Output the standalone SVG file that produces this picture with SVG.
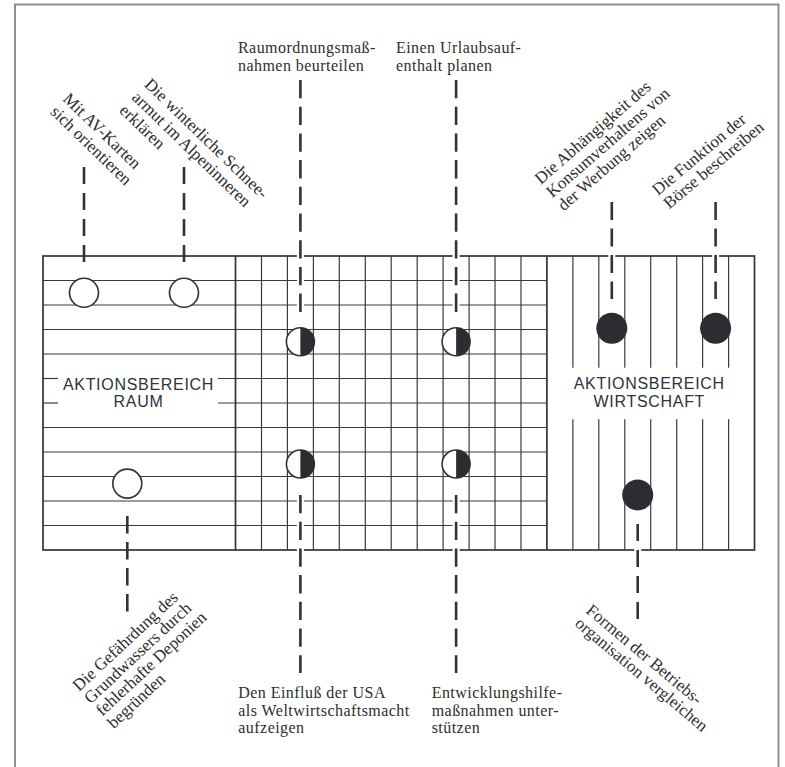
<svg xmlns="http://www.w3.org/2000/svg" width="785" height="767" viewBox="0 0 785 767">
<defs>
<style>
.frame{fill:none;stroke:#8e8e8e;stroke-width:2}
.gl{stroke:#3a3a3a;stroke-width:1.2;fill:none}
.gb{stroke:#333;stroke-width:1.7;fill:none}
.halo{stroke:#fff;stroke-width:7}
.dash{stroke:#333;stroke-width:2.6;fill:none}
.serif{font-family:"Liberation Serif","Times New Roman",serif;font-size:17px;fill:#2e2e2e}
.hs{font-family:"Liberation Serif","Times New Roman",serif;font-size:16px;letter-spacing:0.45px;fill:#2e2e2e}
.sans{font-family:"Liberation Sans",Arial,sans-serif;font-size:16px;letter-spacing:0.7px;fill:#2d3340;text-anchor:middle}
.open{fill:#fff;stroke:#333;stroke-width:1.6}
.dark{fill:#2b2d33}
</style>
</defs>
<rect width="785" height="767" fill="#fff"/>
<path class="frame" d="M15,767 V4.5 H778.5 V767"/>

<g id="grid">
  <g class="gl">
    <line x1="43" y1="280.5" x2="546.9" y2="280.5"/>
    <line x1="43" y1="305" x2="546.9" y2="305"/>
    <line x1="43" y1="329.5" x2="546.9" y2="329.5"/>
    <line x1="43" y1="354" x2="546.9" y2="354"/>
    <line x1="43" y1="378.5" x2="58" y2="378.5"/>
    <line x1="218" y1="378.5" x2="546.9" y2="378.5"/>
    <line x1="43" y1="403" x2="58" y2="403"/>
    <line x1="218" y1="403" x2="546.9" y2="403"/>
    <line x1="43" y1="427.5" x2="546.9" y2="427.5"/>
    <line x1="43" y1="452" x2="546.9" y2="452"/>
    <line x1="43" y1="476.5" x2="546.9" y2="476.5"/>
    <line x1="43" y1="501" x2="546.9" y2="501"/>
    <line x1="43" y1="525.5" x2="546.9" y2="525.5"/>
    <line x1="261.5" y1="256" x2="261.5" y2="550"/>
    <line x1="287.4" y1="256" x2="287.4" y2="550"/>
    <line x1="313.4" y1="256" x2="313.4" y2="550"/>
    <line x1="339.3" y1="256" x2="339.3" y2="550"/>
    <line x1="365.3" y1="256" x2="365.3" y2="550"/>
    <line x1="391.2" y1="256" x2="391.2" y2="550"/>
    <line x1="417.2" y1="256" x2="417.2" y2="550"/>
    <line x1="443.1" y1="256" x2="443.1" y2="550"/>
    <line x1="469.1" y1="256" x2="469.1" y2="550"/>
    <line x1="495" y1="256" x2="495" y2="550"/>
    <line x1="521" y1="256" x2="521" y2="550"/>
    <line x1="572.9" y1="256" x2="572.9" y2="367.7"/>
    <line x1="598.8" y1="256" x2="598.8" y2="367.7"/>
    <line x1="624.8" y1="256" x2="624.8" y2="367.7"/>
    <line x1="650.7" y1="256" x2="650.7" y2="367.7"/>
    <line x1="676.7" y1="256" x2="676.7" y2="367.7"/>
    <line x1="702.6" y1="256" x2="702.6" y2="367.7"/>
    <line x1="728.6" y1="256" x2="728.6" y2="367.7"/>
    <line x1="572.9" y1="419.3" x2="572.9" y2="550"/>
    <line x1="598.8" y1="419.3" x2="598.8" y2="550"/>
    <line x1="624.8" y1="419.3" x2="624.8" y2="550"/>
    <line x1="650.7" y1="419.3" x2="650.7" y2="550"/>
    <line x1="676.7" y1="419.3" x2="676.7" y2="550"/>
    <line x1="702.6" y1="419.3" x2="702.6" y2="550"/>
    <line x1="728.6" y1="419.3" x2="728.6" y2="550"/>
  </g>
  <g class="gb">
    <rect x="43" y="256" width="711.5" height="294"/>
    <line x1="235.5" y1="256" x2="235.5" y2="550"/>
    <line x1="546.9" y1="256" x2="546.9" y2="550"/>
  </g>
  <text class="sans" x="138.5" y="390">AKTIONSBEREICH</text>
  <text class="sans" x="138.5" y="407">RAUM</text>
  <text class="sans" x="649.3" y="389">AKTIONSBEREICH</text>
  <text class="sans" x="649.3" y="406.5">WIRTSCHAFT</text>
</g>

<g id="connectors">
  <g class="halo">
    <line x1="300.4" y1="251" x2="300.4" y2="313"/>
    <line x1="300.4" y1="494" x2="300.4" y2="555"/>
    <line x1="456.1" y1="251" x2="456.1" y2="313"/>
    <line x1="456.1" y1="494" x2="456.1" y2="555"/>
    <line x1="611.8" y1="251" x2="611.8" y2="300"/>
    <line x1="715.6" y1="251" x2="715.6" y2="300"/>
    <line x1="637.7" y1="523" x2="637.7" y2="555"/>
  </g>
  <line class="dash" x1="84" y1="167" x2="84" y2="262" stroke-dasharray="17 9"/>
  <line class="dash" x1="184" y1="167" x2="184" y2="262" stroke-dasharray="17 9"/>
  <line class="dash" x1="127.3" y1="516" x2="127.3" y2="612" stroke-dasharray="17.5 8.5"/>
  <line class="dash" x1="300.4" y1="80" x2="300.4" y2="312" stroke-dasharray="18.3 8.4"/>
  <line class="dash" x1="300.4" y1="495" x2="300.4" y2="673" stroke-dasharray="18.3 8.4"/>
  <line class="dash" x1="456.1" y1="80" x2="456.1" y2="312" stroke-dasharray="18.3 8.4"/>
  <line class="dash" x1="456.1" y1="495" x2="456.1" y2="673" stroke-dasharray="18.3 8.4"/>
  <line class="dash" x1="611.8" y1="202" x2="611.8" y2="299" stroke-dasharray="18 8.5"/>
  <line class="dash" x1="715.6" y1="202" x2="715.6" y2="299" stroke-dasharray="18 8.5"/>
  <line class="dash" x1="637.7" y1="524" x2="637.7" y2="620" stroke-dasharray="17 9"/>
</g>

<g id="n-av-karten">
  <circle class="open" cx="84" cy="292.7" r="14.5"/>
  <g class="serif" transform="translate(62,100) rotate(44)">
    <text x="0" y="0">Mit AV-Karten</text>
    <text x="0" y="18">sich orientieren</text>
  </g>
</g>
<g id="n-schneearmut">
  <circle class="open" cx="184" cy="292.7" r="14.5"/>
  <g class="serif" transform="translate(143.5,85.5) rotate(44)">
    <text x="0" y="0">Die winterliche Schnee-</text>
    <text x="0" y="18">armut im Alpeninneren</text>
    <text x="0" y="36">erklären</text>
  </g>
</g>
<g id="n-grundwasser">
  <circle class="open" cx="127.3" cy="483.6" r="14.5"/>
  <g class="serif" transform="translate(79,692) rotate(-43)">
    <text x="0" y="0">Die Gefährdung des</text>
    <text x="0" y="17">Grundwassers durch</text>
    <text x="0" y="34">fehlerhafte Deponien</text>
    <text x="0" y="51">begründen</text>
  </g>
</g>
<g id="n-raumordnung">
  <circle class="open" cx="300.4" cy="341.7" r="14"/>
  <path class="dark" d="M300.4,327.7 A14,14 0 0 1 300.4,355.7 Z"/>
  <text class="hs" x="238" y="53.3">Raumordnungsmaß-</text>
  <text class="hs" x="238" y="70.5">nahmen beurteilen</text>
</g>
<g id="n-urlaub">
  <circle class="open" cx="456.1" cy="341.7" r="14"/>
  <path class="dark" d="M456.1,327.7 A14,14 0 0 1 456.1,355.7 Z"/>
  <text class="hs" x="396" y="53.3">Einen Urlaubsauf-</text>
  <text class="hs" x="396" y="70.5">enthalt planen</text>
</g>
<g id="n-usa">
  <circle class="open" cx="300.4" cy="464" r="14"/>
  <path class="dark" d="M300.4,450 A14,14 0 0 1 300.4,478 Z"/>
  <text class="hs" x="238.3" y="698.3">Den Einfluß der USA</text>
  <text class="hs" x="238.3" y="715.8">als Weltwirtschaftsmacht</text>
  <text class="hs" x="238.3" y="733.3">aufzeigen</text>
</g>
<g id="n-entwicklung">
  <circle class="open" cx="456.1" cy="464" r="14"/>
  <path class="dark" d="M456.1,450 A14,14 0 0 1 456.1,478 Z"/>
  <text class="hs" x="431.7" y="698.3">Entwicklungshilfe-</text>
  <text class="hs" x="431.7" y="715.8">maßnahmen unter-</text>
  <text class="hs" x="431.7" y="733.3">stützen</text>
</g>
<g id="n-werbung">
  <circle class="dark" cx="611.8" cy="328.3" r="15.5"/>
  <g class="serif" transform="translate(540.7,185) rotate(-41)">
    <text x="0" y="0">Die Abhängigkeit des</text>
    <text x="0" y="17.5">Konsumverhaltens von</text>
    <text x="0" y="35">der Werbung zeigen</text>
  </g>
</g>
<g id="n-boerse">
  <circle class="dark" cx="715.6" cy="328.3" r="15.5"/>
  <g class="serif" transform="translate(658,196) rotate(-40)">
    <text x="0" y="0">Die Funktion der</text>
    <text x="0" y="17.5">Börse beschreiben</text>
  </g>
</g>
<g id="n-betrieb">
  <circle class="dark" cx="637.7" cy="495" r="15.5"/>
  <g class="serif" transform="translate(585,612) rotate(40)">
    <text x="0" y="0">Formen der Betriebs-</text>
    <text x="0" y="17">organisation vergleichen</text>
  </g>
</g>
</svg>
